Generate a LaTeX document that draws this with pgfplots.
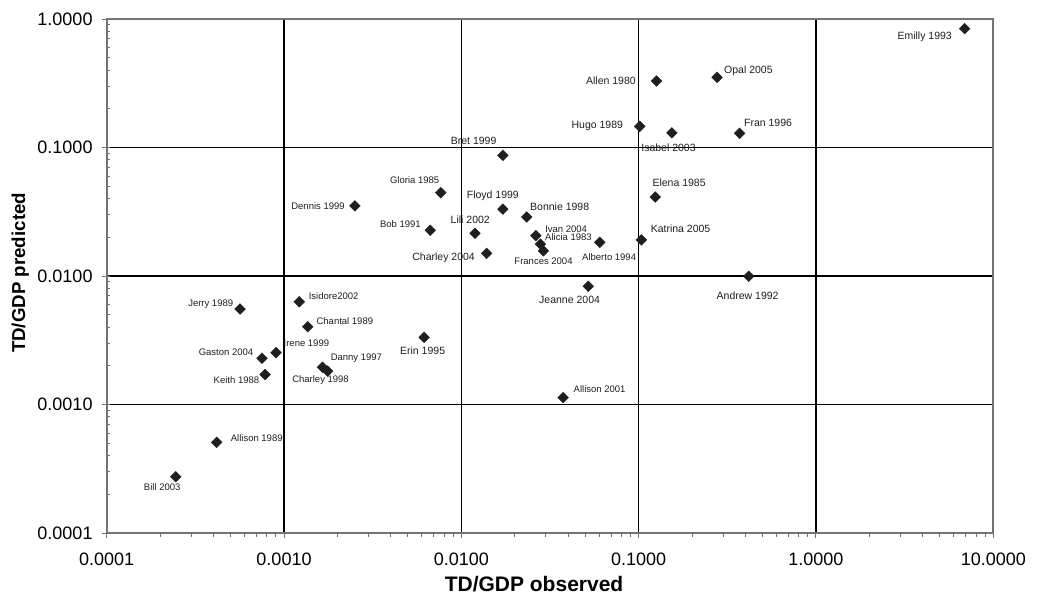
\documentclass[border=0pt]{standalone}
\usepackage{pgfplots}
\pgfplotsset{compat=1.18}
\usepackage{fontspec}
\setmainfont{Liberation Sans}
\tikzset{
  lb/.style={font=\fontsize{10.5}{12}\selectfont, inner sep=0pt, text=black!88},
  sm/.style={font=\fontsize{9.5}{11}\selectfont, inner sep=0pt, text=black!88},
}
\begin{document}
\begin{tikzpicture}
\useasboundingbox (-106.7pt,-64pt) rectangle (936.3pt,533pt);
\begin{axis}[
  at={(0pt,0pt)}, anchor=south west,
  width=886.6pt, height=514pt, scale only axis,
  xmode=log, ymode=log,
  xmin=0.0001, xmax=10, ymin=0.0001, ymax=1,
  xtick={0.0001,0.001,0.01,0.1,1,10},
  xticklabels={0.0001,0.0010,0.0100,0.1000,1.0000,10.0000},
  ytick={0.0001,0.001,0.01,0.1,1},
  yticklabels={0.0001,0.0010,0.0100,0.1000,1.0000},
  xtick pos=bottom, ytick pos=left,
  xmajorgrids, ymajorgrids,
  major grid style={black, line width=1.4pt},
  axis line style={draw=black!55, line width=1.8pt},
  tick style={draw=black!55, line width=1pt},
  tick align=outside,
  major tick length=5pt, minor tick length=3.5pt,
  minor y tick style={xshift=3.5pt},
  ticklabel style={font=\fontsize{18}{20}\selectfont, inner sep=0pt},
  xticklabel style={anchor=center, yshift=-21.5pt},
  yticklabel style={anchor=east, xshift=-9pt},
  xlabel={TD/GDP observed},
  ylabel={TD/GDP predicted},
  xlabel style={font=\bfseries\fontsize{21}{24}\selectfont, inner sep=0pt,
    at={(axis description cs:0.482,0)}, anchor=center, yshift=-51pt},
  ylabel style={font=\bfseries\fontsize{18.7}{22}\selectfont, inner sep=0pt,
    at={(axis description cs:0,0.506)}, anchor=center, yshift=86.4pt},
]
\addplot[only marks, mark=square*, mark size=3.8pt,
  mark options={rotate=45, fill=black!88, draw=black!88}] table {
x y
0.00251 0.0351
0.00766 0.0445
0.00668 0.0227
0.01194 0.0215
0.0139 0.0150
0.01715 0.0869
6.89 0.841
0.126 0.329
0.277 0.352
0.1014 0.146
0.154 0.130
0.371 0.129
0.01715 0.0332
0.0234 0.0288
0.124 0.0412
0.0263 0.0206
0.0279 0.0177
0.0290 0.0157
0.0604 0.0183
0.1035 0.0191
0.418 0.00995
0.052 0.00832
0.0375 0.00113
0.000565 0.00553
0.00122 0.0063
0.00136 0.00403
0.000902 0.00253
0.000752 0.00229
0.000782 0.00171
0.00165 0.00195
0.00176 0.00182
0.00617 0.00333
0.000417 0.000508
0.000245 0.000274
};
\node[sm, anchor=east, xshift=-10pt] at (axis cs:0.00251,0.0351) {Dennis 1999};
\node[sm, anchor=east, xshift=-1.4pt, yshift=12.7pt] at (axis cs:0.00766,0.0445) {Gloria 1985};
\node[sm, anchor=east, xshift=-9.3pt, yshift=6pt] at (axis cs:0.00668,0.0227) {Bob 1991};
\node[lb, xshift=-4.7pt, yshift=13.3pt] at (axis cs:0.01194,0.0215) {Lili 2002};
\node[lb, anchor=east, xshift=-11.7pt, yshift=-4pt] at (axis cs:0.0139,0.0150) {Charley 2004};
\node[lb, xshift=-29.2pt, yshift=14.3pt] at (axis cs:0.01715,0.0869) {Bret 1999};
\node[lb, anchor=east, xshift=-12.6pt, yshift=-8pt] at (axis cs:6.89,0.841) {Emilly 1993};
\node[lb, anchor=east, xshift=-20.5pt] at (axis cs:0.126,0.329) {Allen 1980};
\node[lb, anchor=west, xshift=6.9pt, yshift=6.3pt] at (axis cs:0.277,0.352) {Opal 2005};
\node[lb, anchor=east, xshift=-16.5pt, yshift=0.6pt] at (axis cs:0.1014,0.146) {Hugo 1989};
\node[lb, xshift=-3.4pt, yshift=-15pt] at (axis cs:0.154,0.130) {Isabel 2003};
\node[lb, anchor=west, xshift=4.3pt, yshift=10.6pt] at (axis cs:0.371,0.129) {Fran 1996};
\node[lb, xshift=-10pt, yshift=13.3pt] at (axis cs:0.01715,0.0332) {Floyd 1999};
\node[lb, anchor=west, xshift=3.2pt, yshift=10.7pt] at (axis cs:0.0234,0.0288) {Bonnie 1998};
\node[lb, anchor=west, xshift=-2.9pt, yshift=14pt] at (axis cs:0.124,0.0412) {Elena 1985};
\node[sm, anchor=west, xshift=9.3pt, yshift=6.7pt] at (axis cs:0.0263,0.0206) {Ivan 2004};
\node[sm, anchor=west, xshift=4.7pt, yshift=6.7pt] at (axis cs:0.0279,0.0177) {Alicia 1983};
\node[sm, xshift=0.2pt, yshift=-10pt] at (axis cs:0.0290,0.0157) {Frances 2004};
\node[sm, xshift=9.3pt, yshift=-14.4pt] at (axis cs:0.0604,0.0183) {Alberto 1994};
\node[lb, anchor=west, xshift=9.3pt, yshift=11pt] at (axis cs:0.1035,0.0191) {Katrina 2005};
\node[lb, xshift=-1.2pt, yshift=-19.4pt] at (axis cs:0.418,0.00995) {Andrew 1992};
\node[lb, xshift=-18.7pt, yshift=-13.7pt] at (axis cs:0.052,0.00832) {Jeanne 2004};
\node[sm, anchor=west, xshift=10.4pt, yshift=8.7pt] at (axis cs:0.0375,0.00113) {Allison 2001};
\node[sm, anchor=east, xshift=-6.7pt, yshift=4.7pt] at (axis cs:0.000565,0.00553) {Jerry 1989};
\node[sm, anchor=west, xshift=9.3pt, yshift=6pt] at (axis cs:0.00122,0.0063) {Isidore2002};
\node[sm, anchor=west, xshift=8.7pt, yshift=6pt] at (axis cs:0.00136,0.00403) {Chantal 1989};
\node[sm, anchor=west, xshift=7.4pt, yshift=9.4pt] at (axis cs:0.000902,0.00253) {Irene 1999};
\node[sm, anchor=east, xshift=-8.7pt, yshift=5.6pt] at (axis cs:0.000752,0.00229) {Gaston 2004};
\node[sm, anchor=east, xshift=-5.7pt, yshift=-5.3pt] at (axis cs:0.000782,0.00171) {Keith 1988};
\node[sm, anchor=west, xshift=8pt, yshift=9.3pt] at (axis cs:0.00165,0.00195) {Danny 1997};
\node[sm, xshift=-7pt, yshift=-9.3pt] at (axis cs:0.00176,0.00182) {Charley 1998};
\node[lb, xshift=-1.5pt, yshift=-13.4pt] at (axis cs:0.00617,0.00333) {Erin 1995};
\node[sm, anchor=west, xshift=14pt, yshift=4.6pt] at (axis cs:0.000417,0.000508) {Allison 1989};
\node[sm, xshift=-13.5pt, yshift=-10pt] at (axis cs:0.000245,0.000274) {Bill 2003};
\end{axis}
\end{tikzpicture}
\end{document}
